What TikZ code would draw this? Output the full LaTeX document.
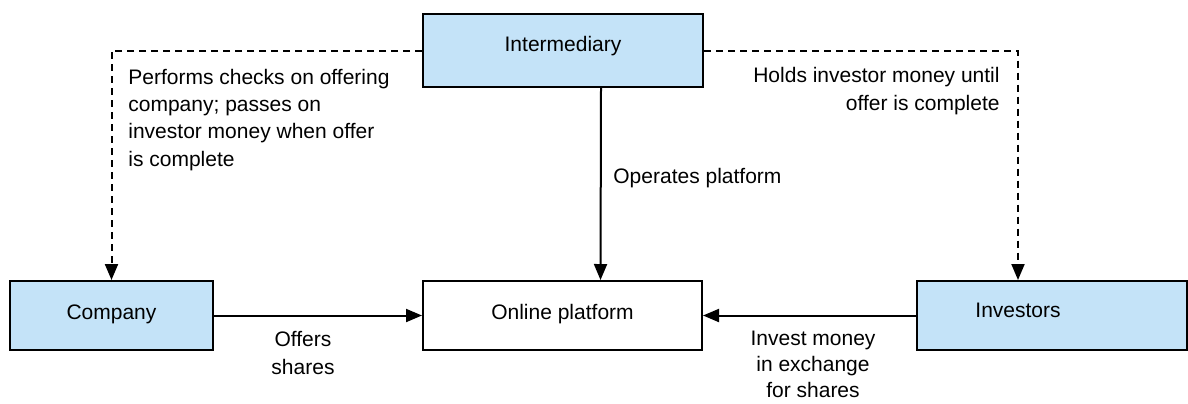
\documentclass[tikz,border=0pt]{standalone}
\usepackage{fontspec}
\setmainfont{Liberation Sans}
\usetikzlibrary{arrows.meta}
\definecolor{boxblue}{RGB}{196,227,248}
\tikzset{
	every node/.style={font=\fontsize{10.5pt}{13.6pt}\selectfont},
	party/.style={draw=black, line width=1pt, fill=boxblue, inner sep=0pt, minimum height=34.5pt, text height=7pt, text depth=3.5pt},
	hub/.style={party, fill=white},
	flow/.style={line width=1pt, -{Triangle[length=8pt,width=6.5pt]}},
	duty/.style={flow, dash pattern=on 3.5pt off 2.5pt},
	note/.style={inner sep=0pt}
}

\begin{document}
\begin{tikzpicture}[x=0.5pt, y=-0.5pt]
			%%%%% START %%%%%
			
			\useasboundingbox (0, 0) rectangle (1188, 403);
			\clip (0, 0) rectangle (1188, 403);
			\fill[white] (0, 0) rectangle (1188, 403);
			
			\node[party, minimum width=140pt, minimum height=36.5pt, text depth=6.5pt] (inter) at (563, 50.5) {Intermediary};
			\node[party, minimum width=101.5pt] (comp) at (111.5, 315.5) {Company};
			\node[hub, minimum width=139.5pt] (online) at (562.5, 315.5) {Online platform};
			\node[party, minimum width=135pt] (inv) at (1052, 315.5) {};
			\node[note, anchor=base] (invtxt) at (1018, 317) {Investors};
			
			\draw[duty] (inter.west) -| (comp.north);
			\draw[duty] (inter.east) -| (invtxt |- inv.north);
			\draw[flow] ([xshift=19pt]inter.south) -- ([xshift=19pt]online.north);
			\draw[flow] (comp.east) -- (online.west);
			\draw[flow] (inv.west) -- (online.east);
			
			% multi-line notes sit on the baseline of their last line
			\node[note, anchor=base west, align=left] (checks) at (128, 166) {Performs checks on offering\\company; passes on\\investor money when offer\\is complete};
			\node[note, anchor=base east, align=right] (holds) at (1000, 110) {Holds investor money until\\offer is complete};
			\node[note, anchor=base west] (operates) at (613, 183) {Operates platform};
			\node[note, anchor=base, align=center] (offers) at (303, 374) {Offers\\shares};
			\node[note, anchor=base, align=center, font=\fontsize{10.5pt}{13pt}\selectfont] (invest) at (813, 397) {Invest money\\in exchange\\for shares};
			
			%%%%% END %%%%%
		\end{tikzpicture}
\end{document}
